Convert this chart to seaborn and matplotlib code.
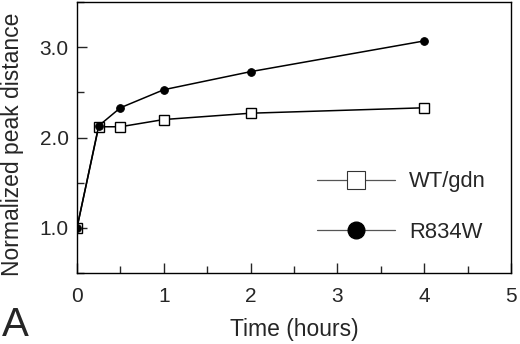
import seaborn as sns
import matplotlib.pyplot as plt
from matplotlib.lines import Line2D
from matplotlib.ticker import MultipleLocator

time_hours = [0, 0.25, 0.5, 1, 2, 4]
wt_gdn = [1.0, 2.12, 2.12, 2.20, 2.27, 2.33]
r834w = [1.0, 2.13, 2.33, 2.53, 2.73, 3.07]
series_labels = ["WT/gdn", "R834W"]

sns.set_style("ticks")
plt.rcParams['font.family'] = ['Liberation Sans', 'DejaVu Sans']

fig, ax = plt.subplots(figsize=(5.2, 3.44), dpi=100)
fig.subplots_adjust(left=0.148, right=0.983, top=0.994, bottom=0.206)

# WT/gdn: open squares
sns.lineplot(x=time_hours, y=wt_gdn, ax=ax, color="black", lw=1.1,
             marker="s", markersize=7.2, markerfacecolor="white",
             markeredgecolor="black", markeredgewidth=1)
# R834W: filled circles
sns.lineplot(x=time_hours, y=r834w, ax=ax, color="black", lw=1.1,
             marker="o", markersize=5.5, markerfacecolor="black",
             markeredgecolor="black")

ax.set_xlim(0, 5)
ax.set_ylim(0.5, 3.5)
ax.xaxis.set_major_locator(MultipleLocator(1))
ax.xaxis.set_minor_locator(MultipleLocator(0.5))
ax.yaxis.set_minor_locator(MultipleLocator(0.5))
ax.set_yticks([1, 2, 3])
ax.set_yticklabels(["1.0", "2.0", "3.0"])
ax.tick_params(which="major", direction="in", length=7, width=1, labelsize=15)
ax.tick_params(axis="x", which="major", pad=10)
ax.tick_params(axis="y", which="major", pad=6)
ax.tick_params(which="minor", direction="in", length=5, width=1)
for s in ax.spines.values():
    s.set_linewidth(1)
    s.set_color("black")

ax.set_xlabel("Time (hours)", fontsize=16.5)
ax.set_ylabel("Normalized peak distance", fontsize=16.5)
ax.xaxis.set_label_coords(0.5, -0.166)
ax.yaxis.set_label_coords(-0.122, 0.475)

handles = [
    Line2D([], [], color="#555555", lw=0.9, marker="s", markersize=13,
           markerfacecolor="white", markeredgecolor="#333333", markeredgewidth=0.8),
    Line2D([], [], color="#555555", lw=0.9, marker="o", markersize=12,
           markerfacecolor="black", markeredgecolor="black"),
]
ax.legend(handles, series_labels, loc="center left", frameon=False,
          fontsize=15.8, handlelength=3.55, labelspacing=1.35, handletextpad=0.65,
          borderpad=0, borderaxespad=0, bbox_to_anchor=(0.553, 0.2435))

fig.text(0.004, 0.0, "A", fontsize=29, va="bottom")

fig.savefig("out.png", dpi=100)
